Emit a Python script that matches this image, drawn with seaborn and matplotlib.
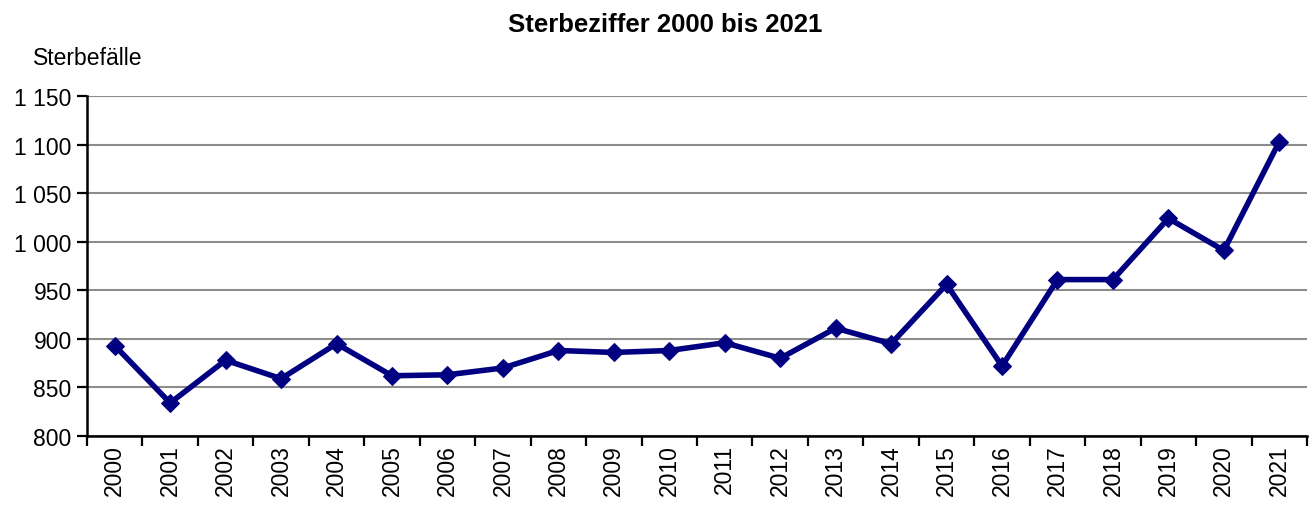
import matplotlib
matplotlib.use("Agg")
import matplotlib.pyplot as plt
import seaborn as sns
import pandas as pd
from matplotlib.ticker import FuncFormatter, FixedLocator


YEARS = [str(y) for y in range(2000, 2022)]
DEATHS = [893, 834, 878, 859, 895, 862, 863, 870, 888, 886, 888,
          896, 880, 911, 895, 956, 872, 961, 961, 1024, 991, 1103]

TITLE = "Sterbeziffer 2000 bis 2021"
Y_LABEL = "Sterbefälle"
Y_TICKS = [800, 850, 900, 950, 1000, 1050, 1100, 1150]

NAVY = "#000080"
FONT = ["Liberation Sans", "DejaVu Sans"]


def thousands(v, _pos):
    return f"{int(v):,}".replace(",", " ")


def main() -> None:
    sns.set_style("white")
    plt.rcParams["font.family"] = FONT
    plt.rcParams["text.color"] = "black"
    plt.rcParams["xtick.color"] = "black"
    plt.rcParams["ytick.color"] = "black"

    df = pd.DataFrame({"year": YEARS, "deaths": DEATHS})

    fig = plt.figure(figsize=(13.14, 5.06), dpi=100)
    ax = fig.add_axes([0.0662, 0.1364, 0.9285, 0.6719])

    sns.lineplot(
        data=df, x="year", y="deaths", ax=ax, color=NAVY,
        linewidth=4.0, marker="D", markersize=9,
        markeredgecolor=NAVY, markerfacecolor=NAVY, zorder=3,
    )

    ax.set_ylim(800, 1150)
    ax.set_xlim(-0.5, len(YEARS) - 0.5)
    ax.yaxis.set_major_locator(FixedLocator(Y_TICKS))
    ax.yaxis.set_major_formatter(FuncFormatter(thousands))
    ax.grid(axis="y", color="#8c8c8c", linewidth=1.5)
    ax.grid(axis="x", visible=False)

    # year labels in the middle, ticks on category boundaries
    ax.set_xticks(range(len(YEARS)))
    ax.set_xticklabels(YEARS, rotation=90, fontsize=16.5)
    ax.set_xticks([i - 0.5 for i in range(len(YEARS) + 1)], minor=True)
    ax.tick_params(axis="x", which="major", bottom=True, length=0, pad=6)
    ax.tick_params(axis="x", which="minor", bottom=True, length=7,
                   width=1.6, color="black", direction="out")
    ax.tick_params(axis="y", left=True, length=7, width=1.6, color="black",
                   direction="out", pad=4, labelsize=16.5)

    for side in ("top", "right"):
        ax.spines[side].set_visible(False)
    for side in ("left", "bottom"):
        ax.spines[side].set_color("black")
        ax.spines[side].set_linewidth(1.8)

    ax.set_xlabel("")
    ax.set_ylabel("")

    fig.text(0.506, 0.95, TITLE, ha="center", va="center",
             fontsize=18.5, fontweight="bold")
    fig.text(0.025, 0.885, Y_LABEL, ha="left", va="center", fontsize=16.5)

    fig.savefig("out.png", dpi=100)
    plt.close(fig)


if __name__ == "__main__":
    main()
